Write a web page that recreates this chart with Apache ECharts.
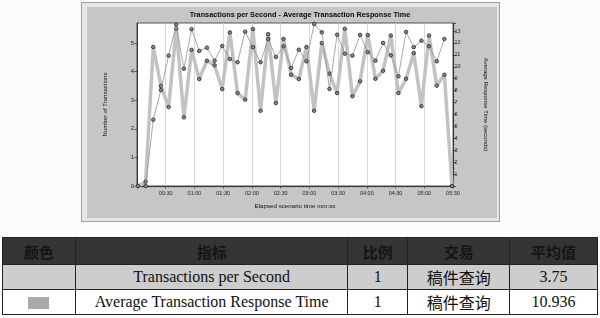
<!DOCTYPE html>
<html>
<head>
<meta charset="utf-8">
<script src="https://cdn.jsdelivr.net/npm/echarts@6/dist/echarts.min.js"></script>
<style>
html,body{margin:0;padding:0;background:#fcfcfc;width:600px;height:318px;overflow:hidden;position:relative;}
#frame{position:absolute;left:81px;top:2px;width:419px;height:220px;border:1px solid #a0a0a0;background:#e6e6e6;box-sizing:border-box;}
#chart{position:absolute;left:87px;top:7px;width:410px;height:211px;}
table{position:absolute;left:2px;top:237px;width:596px;border-collapse:collapse;font-family:"Liberation Serif","Times New Roman",serif;color:#111;}
td,th{border:1px solid #222;text-align:center;padding:0;}
th{background:#353535;color:#141414;height:26px;font-size:15px;font-family:"Noto Sans CJK SC",sans-serif;font-weight:bold;}
tr.r1 td{background:#cdcdcd;height:22px;font-size:16px;}
tr.r2 td{background:#fff;height:24px;font-size:16px;}
.cjk{font-family:"Noto Sans CJK SC",serif;font-size:15px;}
.sw{display:inline-block;width:21px;height:12px;background:#a9a9a9;vertical-align:middle;}
</style>
</head>
<body>
<div id="frame"></div>
<div id="chart"></div>
<table>
<colgroup><col style="width:73px"><col style="width:273px"><col style="width:60px"><col style="width:102px"><col style="width:88px"></colgroup>
<tr><th>颜色</th><th>指标</th><th>比例</th><th>交易</th><th>平均值</th></tr>
<tr class="r1"><td></td><td>Transactions per Second</td><td>1</td><td class="cjk">稿件查询</td><td>3.75</td></tr>
<tr class="r2"><td><span class="sw"></span></td><td>Average Transaction Response Time</td><td>1</td><td class="cjk">稿件查询</td><td>10.936</td></tr>
</table>
<script>
// elapsed time (seconds) of each sample
const times = [1,9,17,25,33,41,49,57,65,73,81,89,97,105,113,121,129,137,145,153,161,169,177,185,193,201,209,217,225,233,241,249,257,265,273,281,289,297,305,313,321,329];
// Transactions per Second (left axis)
const tpsValues = [0,0.15,4.86,3.5,2.76,5.5,2.4,4.76,3.74,4.38,4.22,3.39,5.37,3.25,3.02,5.49,2.63,5.31,2.9,5.14,3.89,3.74,4.86,2.63,5.0,3.93,3.25,5.5,3.14,3.66,5.28,3.75,4.03,5.26,3.25,3.75,4.65,2.79,5.26,3.51,3.89,0];
// Average Transaction Response Time in seconds (right axis)
const rtValues = [null,0,5.56,8.05,10.93,13.53,9.84,13.15,11.33,11.6,10.51,11.74,10.65,10.38,12.94,11.64,10.38,12.33,10.82,11.72,9.9,11.43,10.46,13.59,12.89,8.14,12.69,11.1,10.93,12.67,11.22,10.51,12.0,10.96,9.2,12.92,11.64,12.19,11.72,10.46,12.33,null];
const xTickLabels = ['00:00','00:30','01:00','01:30','02:00','02:30','03:00','03:30','04:00','04:30','05:00','05:30'];
const chartTitle = 'Transactions per Second - Average Transaction Response Time';

const FONT = 'Liberation Sans';
const chart = echarts.init(document.getElementById('chart'));
const pair = (vals) => times.map((t, i) => [t, vals[i]]);
const marker = {color:'#8c8c8c', borderColor:'#2e2e2e', borderWidth:0.9};

chart.setOption({
  backgroundColor: '#c6c6c6',
  animation: false,
  graphic: [{
    type: 'text', x: 213, y: 8,
    style: {text: chartTitle, textAlign: 'center', textVerticalAlign: 'middle',
            font: 'bold 7.3px "' + FONT + '"', fill: '#0a0a0a'}
  }],
  grid: {left: 50, right: 34, top: 16, bottom: 32, show: true,
         backgroundColor: '#ffffff', borderColor: '#555', borderWidth: 1},
  xAxis: {
    type: 'value', min: 0, max: 330, interval: 30,
    name: 'Elapsed scenario time mm:ss', nameLocation: 'middle', nameGap: 17,
    nameTextStyle: {fontFamily: FONT, fontSize: 6.2, color: '#111'},
    axisLine: {lineStyle: {color: '#333', width: 1}},
    axisTick: {show: true, length: 2.5, lineStyle: {color: '#333', width: 0.8}},
    minorTick: {show: true, splitNumber: 10, length: 1.5, lineStyle: {color: '#444', width: 0.6}},
    axisLabel: {fontFamily: FONT, fontSize: 5.5, color: '#222', margin: 4, showMinLabel: false,
                formatter: (v) => xTickLabels[Math.round(v / 30)] || ''},
    splitLine: {show: true, lineStyle: {color: '#cfcfcf', width: 0.8}}
  },
  yAxis: [{
    type: 'value', min: 0, max: 5.7, interval: 1, position: 'left',
    name: 'Number of Transactions', nameLocation: 'middle', nameGap: 29, nameRotate: 90,
    nameTextStyle: {fontFamily: FONT, fontSize: 6, color: '#111'},
    axisLine: {show: true, lineStyle: {color: '#333', width: 1}},
    axisTick: {show: true, length: 2.5, lineStyle: {color: '#333', width: 0.8}},
    axisLabel: {fontFamily: FONT, fontSize: 6, color: '#222', margin: 3, showMaxLabel: false,
                formatter: (v) => Number.isInteger(v) ? String(v) : ''},
    splitLine: {show: false}
  }, {
    type: 'value', min: 0, max: 13.67, interval: 1, position: 'right',
    name: 'Average Response Time (seconds)', nameLocation: 'middle', nameGap: 30, nameRotate: -90,
    nameTextStyle: {fontFamily: FONT, fontSize: 6, color: '#111'},
    axisLine: {show: true, lineStyle: {color: '#333', width: 1}},
    axisTick: {show: true, length: 3, lineStyle: {color: '#333', width: 0.8}},
    minorTick: {show: true, splitNumber: 2, length: 1.5, lineStyle: {color: '#444', width: 0.6}},
    axisLabel: {fontFamily: FONT, fontSize: 5.5, color: '#222', margin: 1.5, showMaxLabel: false, showMinLabel: false,
                formatter: (v) => Number.isInteger(v) ? String(v) : ''},
    splitLine: {show: false}
  }],
  series: [{
    name: 'Transactions per Second', type: 'line', yAxisIndex: 0,
    data: pair(tpsValues), symbol: 'circle', symbolSize: 3.5,
    lineStyle: {color: '#c2c2c2', width: 3.5}, itemStyle: marker, z: 2
  }, {
    name: 'Average Transaction Response Time', type: 'line', yAxisIndex: 1,
    data: pair(rtValues), symbol: 'circle', symbolSize: 3.5, connectNulls: false,
    lineStyle: {color: '#909090', width: 0.8}, itemStyle: marker, z: 3
  }]
});
</script>
</body>
</html>
